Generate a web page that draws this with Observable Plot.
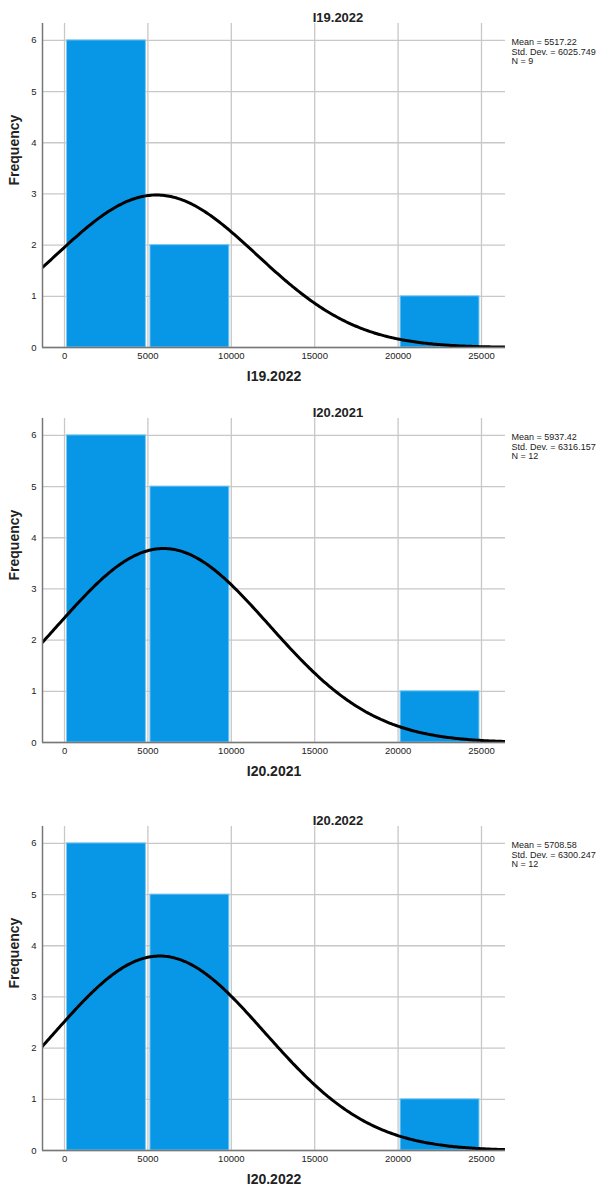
<!DOCTYPE html>
<html>
<head>
<meta charset="utf-8">
<script src="https://cdn.jsdelivr.net/npm/d3@7"></script>
<script src="https://cdn.jsdelivr.net/npm/@observablehq/plot@0.6"></script>
<style>
  body { margin: 0; background: white; }
  #charts svg { display: block; }
</style>
</head>
<body>
<div id="charts"></div>
<script>
const titles = ["I19.2022", "I20.2021", "I20.2022"];
const binStarts = [0, 5000, 10000, 15000, 20000];
const binWidth = 5000;
const counts_I19_2022 = [6, 2, 0, 0, 1];
const counts_I20_2021 = [6, 5, 0, 0, 1];
const counts_I20_2022 = [6, 5, 0, 0, 1];
const means = [5517.22, 5937.42, 5708.58];
const stdDevs = [6025.749, 6316.157, 6300.247];
const ns = [9, 12, 12];
const xTicks = [0, 5000, 10000, 15000, 20000, 25000];
const yTicks = [0, 1, 2, 3, 4, 5, 6];

const allCounts = [counts_I19_2022, counts_I20_2021, counts_I20_2022];
const heights = [395, 408, 391];
const xDomain = [-1320, 26440];

const container = document.getElementById("charts");

titles.forEach((title, i) => {
  const bins = binStarts.map((x1, j) => ({ x1, x2: x1 + binWidth, count: allCounts[i][j] }))
    .filter(d => d.count > 0);

  // fitted normal curve scaled to counts (N * bin width * pdf)
  const mu = means[i], sd = stdDevs[i], n = ns[i];
  const curve = d3.range(xDomain[0], xDomain[1] + 1, 100).map(x => ({
    x,
    y: n * binWidth * Math.exp(-0.5 * ((x - mu) / sd) ** 2) / (sd * Math.sqrt(2 * Math.PI))
  }));

  const h = heights[i];
  const chart = Plot.plot({
    width: 598,
    height: h,
    marginTop: 23,
    marginLeft: 42,
    marginRight: 93,
    marginBottom: h - 347,
    style: { background: "white", fontFamily: "Liberation Sans, Arial, sans-serif", fontSize: "9.5px", color: "#222" },
    x: { domain: xDomain },
    y: { domain: [0, 6.33] },
    marks: [
      Plot.gridX(xTicks, { stroke: "#c8c8c8", strokeOpacity: 1, strokeWidth: 1.3 }),
      Plot.gridY(yTicks, { stroke: "#c8c8c8", strokeOpacity: 1, strokeWidth: 1.3 }),
      Plot.rect(bins, { x1: "x1", x2: "x2", y1: 0, y2: "count", fill: "#0797e6", stroke: "#7cc8f2", strokeWidth: 1, insetLeft: 2.5, insetRight: 2 }),
      Plot.line(curve, { x: "x", y: "y", stroke: "black", strokeWidth: 3, clip: true }),
      Plot.ruleX([xDomain[0]], { stroke: "#777", strokeWidth: 1.5 }),
      Plot.ruleY([0], { stroke: "#777", strokeWidth: 1.5 }),
      Plot.axisY(yTicks, { tickSize: 0, tickPadding: 6, label: null, tickFormat: d => String(d) }),
      Plot.axisX(xTicks, { tickSize: 0, tickPadding: 5, label: null, tickFormat: d => String(d) }),
      Plot.text([title], { frameAnchor: "top", dx: 64, dy: -11, fontWeight: "bold", fontSize: 13 }),
      Plot.text([title], { frameAnchor: "bottom", dy: 33, fontWeight: "bold", fontSize: 14 }),
      Plot.text(["Frequency"], { frameAnchor: "left", dx: -28, rotate: -90, fontWeight: "bold", fontSize: 14 }),
      Plot.text([`Mean = ${means[i]}\nStd. Dev. = ${stdDevs[i]}\nN = ${ns[i]}`], {
        frameAnchor: "top-right", dx: 6, dy: 15, textAnchor: "start", lineAnchor: "top", lineHeight: 1.05, fontSize: 9
      })
    ]
  });
  container.appendChild(chart);
});
</script>
</body>
</html>
